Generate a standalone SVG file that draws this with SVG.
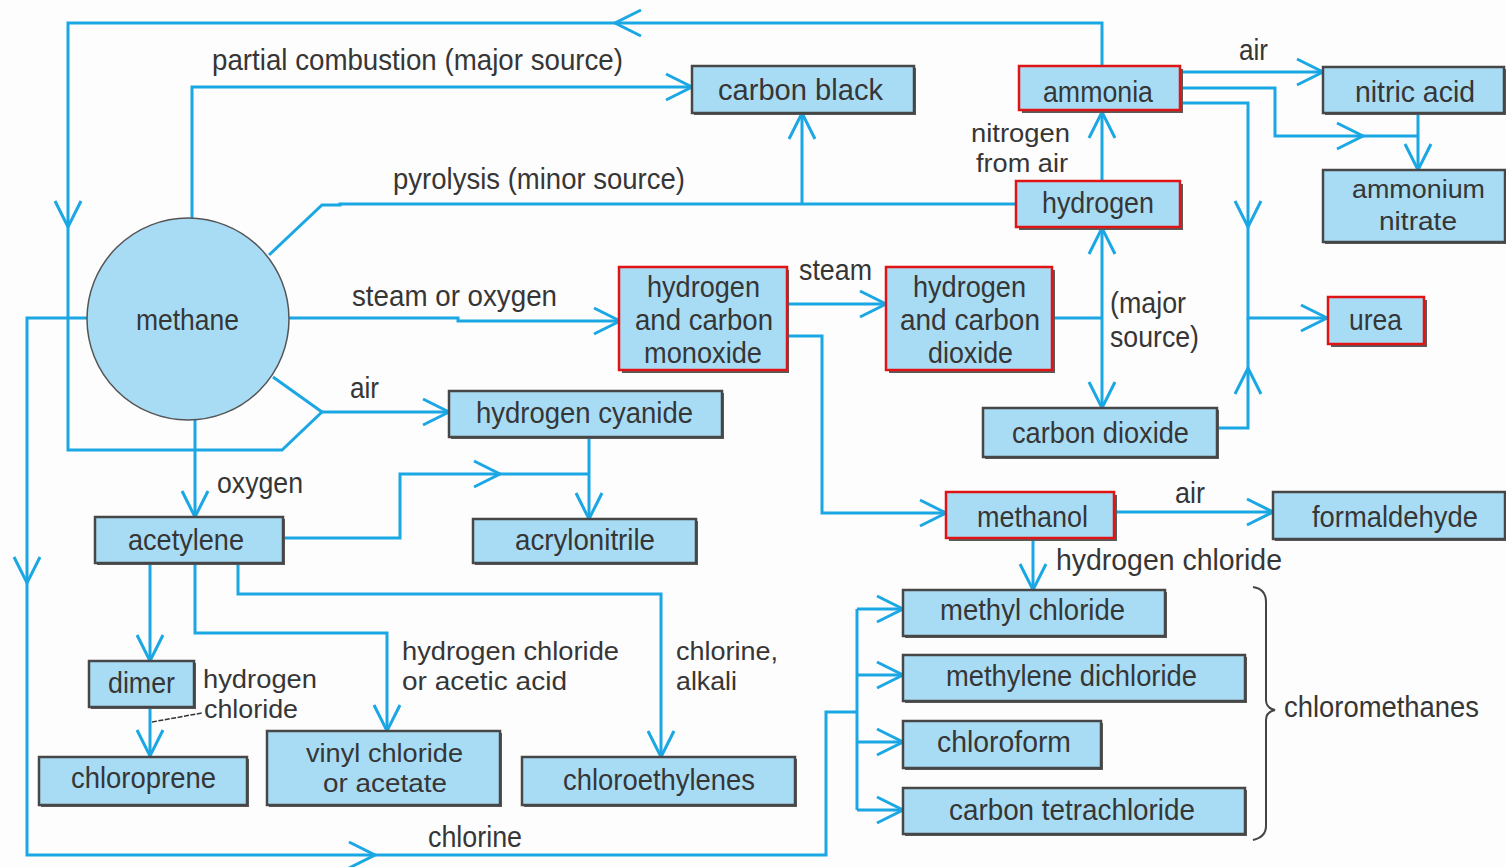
<svg xmlns="http://www.w3.org/2000/svg" width="1506" height="867" viewBox="0 0 1506 867">
  <style>
    .ln { fill: none; stroke: #1aa7e4; stroke-width: 3; stroke-linejoin: miter; }
    .ar { marker-end: url(#ah); }
    .box { fill: #a8dcf5; stroke: #474747; stroke-width: 2.5; }
    .hl { fill: #a8dcf5; stroke: #e01414; stroke-width: 2.5; }
    .sh { fill: #5a5a5a; }
    .t { font-family: "Liberation Sans", Arial, sans-serif; font-size: 29px; fill: #363636; }
    .t2 { font-size: 26.5px; }
  </style>
  <defs>
    <marker id="ah" markerUnits="userSpaceOnUse" markerWidth="40" markerHeight="40" viewBox="-30 -20 40 40" refX="0" refY="0" orient="auto">
      <path d="M-26,-13 L0,0 L-26,13" fill="none" stroke="#1aa7e4" stroke-width="3"/>
    </marker>
  </defs>
  <rect width="1506" height="867" fill="#fdfdfd"/>

  <g id="connectors">
    <!-- ammonia / air loop back into hydrogen cyanide -->
    <path class="ln ar" d="M1102,67 V23 H615"/>
    <path class="ln ar" d="M615,23 H68 V227"/>
    <path class="ln ar" d="M68,227 V450 H282 L322,412 H449"/>
    <path class="ln" d="M273,377 L322,412"/>
    <!-- partial combustion -->
    <path class="ln ar" d="M192,218 V87 H692"/>
    <!-- pyrolysis -->
    <path class="ln" d="M269,255 L322,205 H340 V204 H1017"/>
    <path class="ln ar" d="M802,204 V113"/>
    <!-- steam or oxygen -->
    <path class="ln ar" d="M289,318 H458 V321 H620"/>
    <!-- steam -->
    <path class="ln ar" d="M787,304 H886"/>
    <!-- to methanol -->
    <path class="ln ar" d="M787,336 H822 V513 H946"/>
    <!-- hydrogen and carbon dioxide splits -->
    <path class="ln" d="M1052,318 H1102"/>
    <path class="ln ar" d="M1102,318 V228"/>
    <path class="ln ar" d="M1102,318 V408"/>
    <!-- nitrogen from air -->
    <path class="ln ar" d="M1102,181 V112"/>
    <!-- ammonia outputs -->
    <path class="ln ar" d="M1180,72 H1323"/>
    <path class="ln ar" d="M1180,88 H1275 V136 H1363"/>
    <path class="ln" d="M1363,136 H1418"/>
    <path class="ln ar" d="M1418,113 V170"/>
    <path class="ln ar" d="M1180,103 H1248 V227"/>
    <path class="ln ar" d="M1248,227 V318 H1327"/>
    <path class="ln ar" d="M1217,428 H1248 V368"/>
    <path class="ln" d="M1248,368 V318"/>
    <!-- methanol outputs -->
    <path class="ln ar" d="M1114,512 H1273"/>
    <path class="ln ar" d="M1033,538 V590"/>
    <!-- methane to acetylene -->
    <path class="ln ar" d="M195,420 V517"/>
    <!-- acetylene to acrylonitrile -->
    <path class="ln ar" d="M283,538 H400 V474 H500"/>
    <path class="ln" d="M500,474 H589"/>
    <path class="ln ar" d="M589,437 V519"/>
    <!-- acetylene branches -->
    <path class="ln ar" d="M150,563 V661"/>
    <path class="ln ar" d="M150,707 V756"/>
    <path class="ln ar" d="M195,563 V633 H387 V731"/>
    <path class="ln ar" d="M238,563 V594 H661 V757"/>
    <!-- chlorine route to chloromethanes -->
    <path class="ln ar" d="M87,318 H27 V583"/>
    <path class="ln ar" d="M27,583 V855 H375"/>
    <path class="ln" d="M375,855 H826 V712 H857"/>
    <path class="ln" d="M857,609 V810"/>
    <path class="ln ar" d="M857,609 H903"/>
    <path class="ln ar" d="M857,675 H903"/>
    <path class="ln ar" d="M857,742 H903"/>
    <path class="ln ar" d="M857,810 H903"/>
    <!-- hydrogen chloride leader -->
    <path d="M152,722 L202,713" fill="none" stroke="#333" stroke-width="1.5" stroke-dasharray="5,1.5"/>
    <!-- chloromethanes brace -->
    <path d="M1253,587 Q1266,589 1266,602 V700 Q1266,708 1275,710 Q1266,712 1266,720 V826 Q1266,837 1253,840" fill="none" stroke="#444" stroke-width="2"/>
  </g>

  <!-- edge labels -->
  <g id="labels">
    <text class="t" x="212" y="70" textLength="411" lengthAdjust="spacingAndGlyphs">partial combustion (major source)</text>
    <text class="t" x="393" y="189" textLength="292" lengthAdjust="spacingAndGlyphs">pyrolysis (minor source)</text>
    <text class="t" x="352" y="306" textLength="205" lengthAdjust="spacingAndGlyphs">steam or oxygen</text>
    <text class="t" x="799" y="280" textLength="73" lengthAdjust="spacingAndGlyphs">steam</text>
    <text class="t" x="1239" y="60" textLength="29" lengthAdjust="spacingAndGlyphs">air</text>
    <text class="t t2" x="971" y="142" textLength="99" lengthAdjust="spacingAndGlyphs">nitrogen</text>
    <text class="t t2" x="976" y="172" textLength="92" lengthAdjust="spacingAndGlyphs">from air</text>
    <text class="t" x="1110" y="313" textLength="76" lengthAdjust="spacingAndGlyphs">(major</text>
    <text class="t" x="1110" y="347" textLength="89" lengthAdjust="spacingAndGlyphs">source)</text>
    <text class="t" x="350" y="398" textLength="29" lengthAdjust="spacingAndGlyphs">air</text>
    <text class="t" x="217" y="493" textLength="86" lengthAdjust="spacingAndGlyphs">oxygen</text>
    <text class="t" x="1175" y="503" textLength="30" lengthAdjust="spacingAndGlyphs">air</text>
    <text class="t" x="1056" y="570" textLength="226" lengthAdjust="spacingAndGlyphs">hydrogen  chloride</text>
    <text class="t t2" x="203" y="688" textLength="114" lengthAdjust="spacingAndGlyphs">hydrogen</text>
    <text class="t t2" x="204" y="718" textLength="94" lengthAdjust="spacingAndGlyphs">chloride</text>
    <text class="t t2" x="402" y="660" textLength="217" lengthAdjust="spacingAndGlyphs">hydrogen chloride</text>
    <text class="t t2" x="402" y="690" textLength="165" lengthAdjust="spacingAndGlyphs">or acetic acid</text>
    <text class="t t2" x="676" y="660" textLength="102" lengthAdjust="spacingAndGlyphs">chlorine,</text>
    <text class="t t2" x="676" y="690" textLength="61" lengthAdjust="spacingAndGlyphs">alkali</text>
    <text class="t" x="428" y="847" textLength="94" lengthAdjust="spacingAndGlyphs">chlorine</text>
    <text class="t" x="1284" y="717" textLength="195" lengthAdjust="spacingAndGlyphs">chloromethanes</text>
  </g>

  <g id="methane">
    <circle cx="188" cy="319" r="101" fill="#a8dcf5" stroke="#555" stroke-width="1.5"/>
    <text class="t" x="136" y="330" textLength="103" lengthAdjust="spacingAndGlyphs">methane</text>
  </g>

  <g id="carbon-black">
    <rect class="sh" x="694" y="68" width="222" height="47"/>
    <rect class="box" x="692" y="66" width="222" height="47"/>
    <text class="t" x="718" y="100" textLength="165" lengthAdjust="spacingAndGlyphs">carbon  black</text>
  </g>

  <g id="ammonia">
    <rect class="sh" x="1022" y="69" width="161" height="44"/>
    <rect class="hl" x="1019" y="66" width="161" height="44"/>
    <text class="t" x="1043" y="102" textLength="110" lengthAdjust="spacingAndGlyphs">ammonia</text>
  </g>

  <g id="hydrogen">
    <rect class="sh" x="1019" y="184" width="164" height="46"/>
    <rect class="hl" x="1016" y="181" width="164" height="46"/>
    <text class="t" x="1042" y="213" textLength="112" lengthAdjust="spacingAndGlyphs">hydrogen</text>
  </g>

  <g id="nitric-acid">
    <rect class="sh" x="1325" y="69" width="181" height="46"/>
    <rect class="box" x="1323" y="67" width="181" height="46"/>
    <text class="t" x="1355" y="102" textLength="120" lengthAdjust="spacingAndGlyphs">nitric acid</text>
  </g>

  <g id="ammonium-nitrate">
    <rect class="sh" x="1325" y="172" width="182" height="72"/>
    <rect class="box" x="1323" y="170" width="182" height="72"/>
    <text class="t t2" x="1352" y="198" textLength="133" lengthAdjust="spacingAndGlyphs">ammonium</text>
    <text class="t t2" x="1379" y="230" textLength="78" lengthAdjust="spacingAndGlyphs">nitrate</text>
  </g>

  <g id="hydrogen-carbon-monoxide">
    <rect class="sh" x="622" y="270" width="167" height="103"/>
    <rect class="hl" x="619" y="267" width="168" height="103"/>
    <text class="t" x="647" y="297" textLength="113" lengthAdjust="spacingAndGlyphs">hydrogen</text>
    <text class="t" x="635" y="330" textLength="138" lengthAdjust="spacingAndGlyphs">and carbon</text>
    <text class="t" x="644" y="363" textLength="118" lengthAdjust="spacingAndGlyphs">monoxide</text>
  </g>

  <g id="hydrogen-carbon-dioxide">
    <rect class="sh" x="889" y="270" width="166" height="103"/>
    <rect class="hl" x="886" y="267" width="166" height="103"/>
    <text class="t" x="913" y="297" textLength="113" lengthAdjust="spacingAndGlyphs">hydrogen</text>
    <text class="t" x="900" y="330" textLength="140" lengthAdjust="spacingAndGlyphs">and carbon</text>
    <text class="t" x="928" y="363" textLength="85" lengthAdjust="spacingAndGlyphs">dioxide</text>
  </g>

  <g id="urea">
    <rect class="sh" x="1331" y="300" width="96" height="47"/>
    <rect class="hl" x="1328" y="297" width="96" height="47"/>
    <text class="t" x="1349" y="330" textLength="53" lengthAdjust="spacingAndGlyphs">urea</text>
  </g>

  <g id="carbon-dioxide">
    <rect class="sh" x="985" y="410" width="234" height="49"/>
    <rect class="box" x="983" y="408" width="234" height="49"/>
    <text class="t" x="1012" y="443" textLength="177" lengthAdjust="spacingAndGlyphs">carbon dioxide</text>
  </g>

  <g id="hydrogen-cyanide">
    <rect class="sh" x="451" y="393" width="273" height="46"/>
    <rect class="box" x="449" y="391" width="273" height="46"/>
    <text class="t" x="476" y="423" textLength="217" lengthAdjust="spacingAndGlyphs">hydrogen cyanide</text>
  </g>

  <g id="acetylene">
    <rect class="sh" x="97" y="519" width="188" height="46"/>
    <rect class="box" x="95" y="517" width="188" height="46"/>
    <text class="t" x="128" y="550" textLength="116" lengthAdjust="spacingAndGlyphs">acetylene</text>
  </g>

  <g id="acrylonitrile">
    <rect class="sh" x="475" y="521" width="223" height="44"/>
    <rect class="box" x="473" y="519" width="223" height="44"/>
    <text class="t" x="515" y="550" textLength="140" lengthAdjust="spacingAndGlyphs">acrylonitrile</text>
  </g>

  <g id="methanol">
    <rect class="sh" x="949" y="495" width="168" height="46"/>
    <rect class="hl" x="946" y="492" width="168" height="46"/>
    <text class="t" x="977" y="527" textLength="111" lengthAdjust="spacingAndGlyphs">methanol</text>
  </g>

  <g id="formaldehyde">
    <rect class="sh" x="1275" y="494" width="232" height="47"/>
    <rect class="box" x="1273" y="492" width="232" height="47"/>
    <text class="t" x="1312" y="527" textLength="166" lengthAdjust="spacingAndGlyphs">formaldehyde</text>
  </g>

  <g id="methyl-chloride">
    <rect class="sh" x="905" y="592" width="262" height="46"/>
    <rect class="box" x="903" y="590" width="262" height="46"/>
    <text class="t" x="940" y="620" textLength="185" lengthAdjust="spacingAndGlyphs">methyl chloride</text>
  </g>

  <g id="methylene-dichloride">
    <rect class="sh" x="905" y="657" width="342" height="46"/>
    <rect class="box" x="903" y="655" width="342" height="46"/>
    <text class="t" x="946" y="686" textLength="251" lengthAdjust="spacingAndGlyphs">methylene dichloride</text>
  </g>

  <g id="chloroform">
    <rect class="sh" x="905" y="723" width="198" height="47"/>
    <rect class="box" x="903" y="721" width="198" height="47"/>
    <text class="t" x="937" y="752" textLength="134" lengthAdjust="spacingAndGlyphs">chloroform</text>
  </g>

  <g id="carbon-tetrachloride">
    <rect class="sh" x="905" y="790" width="342" height="46"/>
    <rect class="box" x="903" y="788" width="342" height="46"/>
    <text class="t" x="949" y="820" textLength="246" lengthAdjust="spacingAndGlyphs">carbon tetrachloride</text>
  </g>

  <g id="dimer">
    <rect class="sh" x="91" y="663" width="105" height="46"/>
    <rect class="box" x="89" y="661" width="105" height="46"/>
    <text class="t" x="108" y="693" textLength="67" lengthAdjust="spacingAndGlyphs">dimer</text>
  </g>

  <g id="chloroprene">
    <rect class="sh" x="41" y="759" width="208" height="48"/>
    <rect class="box" x="39" y="757" width="208" height="48"/>
    <text class="t" x="71" y="788" textLength="145" lengthAdjust="spacingAndGlyphs">chloroprene</text>
  </g>

  <g id="vinyl-chloride">
    <rect class="sh" x="269" y="733" width="233" height="74"/>
    <rect class="box" x="267" y="731" width="233" height="74"/>
    <text class="t t2" x="306" y="762" textLength="157" lengthAdjust="spacingAndGlyphs">vinyl chloride</text>
    <text class="t t2" x="323" y="792" textLength="124" lengthAdjust="spacingAndGlyphs">or acetate</text>
  </g>

  <g id="chloroethylenes">
    <rect class="sh" x="524" y="759" width="273" height="48"/>
    <rect class="box" x="522" y="757" width="273" height="48"/>
    <text class="t" x="563" y="790" textLength="192" lengthAdjust="spacingAndGlyphs">chloroethylenes</text>
  </g>
</svg>
